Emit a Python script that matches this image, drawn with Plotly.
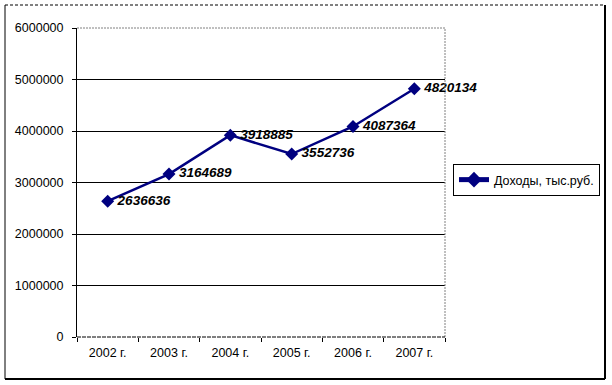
import plotly.graph_objects as go

categories = ["2002 г.", "2003 г.", "2004 г.", "2005 г.", "2006 г.", "2007 г."]
income = [2636636, 3164689, 3918885, 3552736, 4087364, 4820134]
series_name = "Доходы, тыс.руб."

W, H = 612, 385
L, R, T, B = 77, 445, 28, 337  # plot area pixel box

def px_x(px):
    return (px - L) / (R - L)

def px_y(py):
    return (B - py) / (B - T)

FONT = "Arial, Liberation Sans, sans-serif"
NAVY = "#000080"

fig = go.Figure()
fig.add_trace(go.Scatter(
    x=categories, y=income, name=series_name,
    mode="lines+markers+text",
    line=dict(color=NAVY, width=2.5),
    marker=dict(symbol="diamond", size=10, color=NAVY),
    text=["\u2009" + str(v) for v in income],
    textposition="middle right",
    textfont=dict(family=FONT, size=13.5, color="black", weight="bold", style="italic"),
    cliponaxis=False,
))

shapes = []
shapes.append(dict(type="line", xref="paper", yref="paper", x0=0, x1=1, y0=1, y1=1,
                   line=dict(color="white", width=2)))
shapes.append(dict(type="line", xref="paper", yref="paper", x0=0, x1=1, y0=1, y1=1,
                   line=dict(color="#808080", width=1, dash="2px,1px")))
shapes.append(dict(type="line", xref="paper", yref="paper", x0=1, x1=1, y0=0, y1=1,
                   line=dict(color="#808080", width=1, dash="2px,1px")))
shapes.append(dict(type="line", xref="paper", yref="paper", x0=0, x1=1, y0=0, y1=0,
                   line=dict(color="black", width=1, dash="4px,1px")))
ox0, ox1, oy0, oy1 = px_x(5), px_x(605), px_y(379), px_y(5)
shapes.append(dict(type="line", xref="paper", yref="paper", x0=ox0, x1=ox1, y0=oy1, y1=oy1,
                   line=dict(color="black", width=1, dash="3px,2px")))
shapes.append(dict(type="line", xref="paper", yref="paper", x0=ox0, x1=ox0, y0=oy0, y1=oy1,
                   line=dict(color="black", width=1)))
shapes.append(dict(type="line", xref="paper", yref="paper", x0=ox1, x1=ox1, y0=oy0, y1=oy1,
                   line=dict(color="black", width=2)))
shapes.append(dict(type="line", xref="paper", yref="paper", x0=ox0, x1=ox1, y0=oy0, y1=oy0,
                   line=dict(color="black", width=2)))

fig.update_layout(
    width=W, height=H,
    margin=dict(l=L, r=W - R, t=T, b=H - B, pad=0, autoexpand=False),
    paper_bgcolor="white", plot_bgcolor="white",
    font=dict(family=FONT, size=12.5, color="black"),
    showlegend=True,
    legend=dict(
        x=px_x(453), xanchor="left", y=px_y(180), yanchor="middle",
        bordercolor="black", borderwidth=1, bgcolor="white",
        font=dict(family=FONT, size=12.5, color="black"),
        itemsizing="constant", tracegroupgap=0,
    ),
    xaxis=dict(
        type="category", range=[-0.5, 5.5], tickson="boundaries",
        ticks="outside", ticklen=4, tickcolor="black",
        showline=False, showgrid=False, zeroline=False,
        tickfont=dict(family=FONT, size=12.5, color="black"),
        ticklabelstandoff=6,
        fixedrange=True,
    ),
    yaxis=dict(
        range=[0, 6000000], dtick=1000000, tickformat="d",
        ticks="outside", ticklen=4, tickcolor="black",
        showline=True, linecolor="black", linewidth=1,
        showgrid=True, gridcolor="black", gridwidth=1,
        zeroline=False,
        tickfont=dict(family=FONT, size=12.5, color="black"),
        ticklabelstandoff=6,
        fixedrange=True,
    ),
    shapes=shapes,
)

fig.write_html("out.html", config={"displayModeBar": False},
               post_script="document.body.style.margin='0';")
